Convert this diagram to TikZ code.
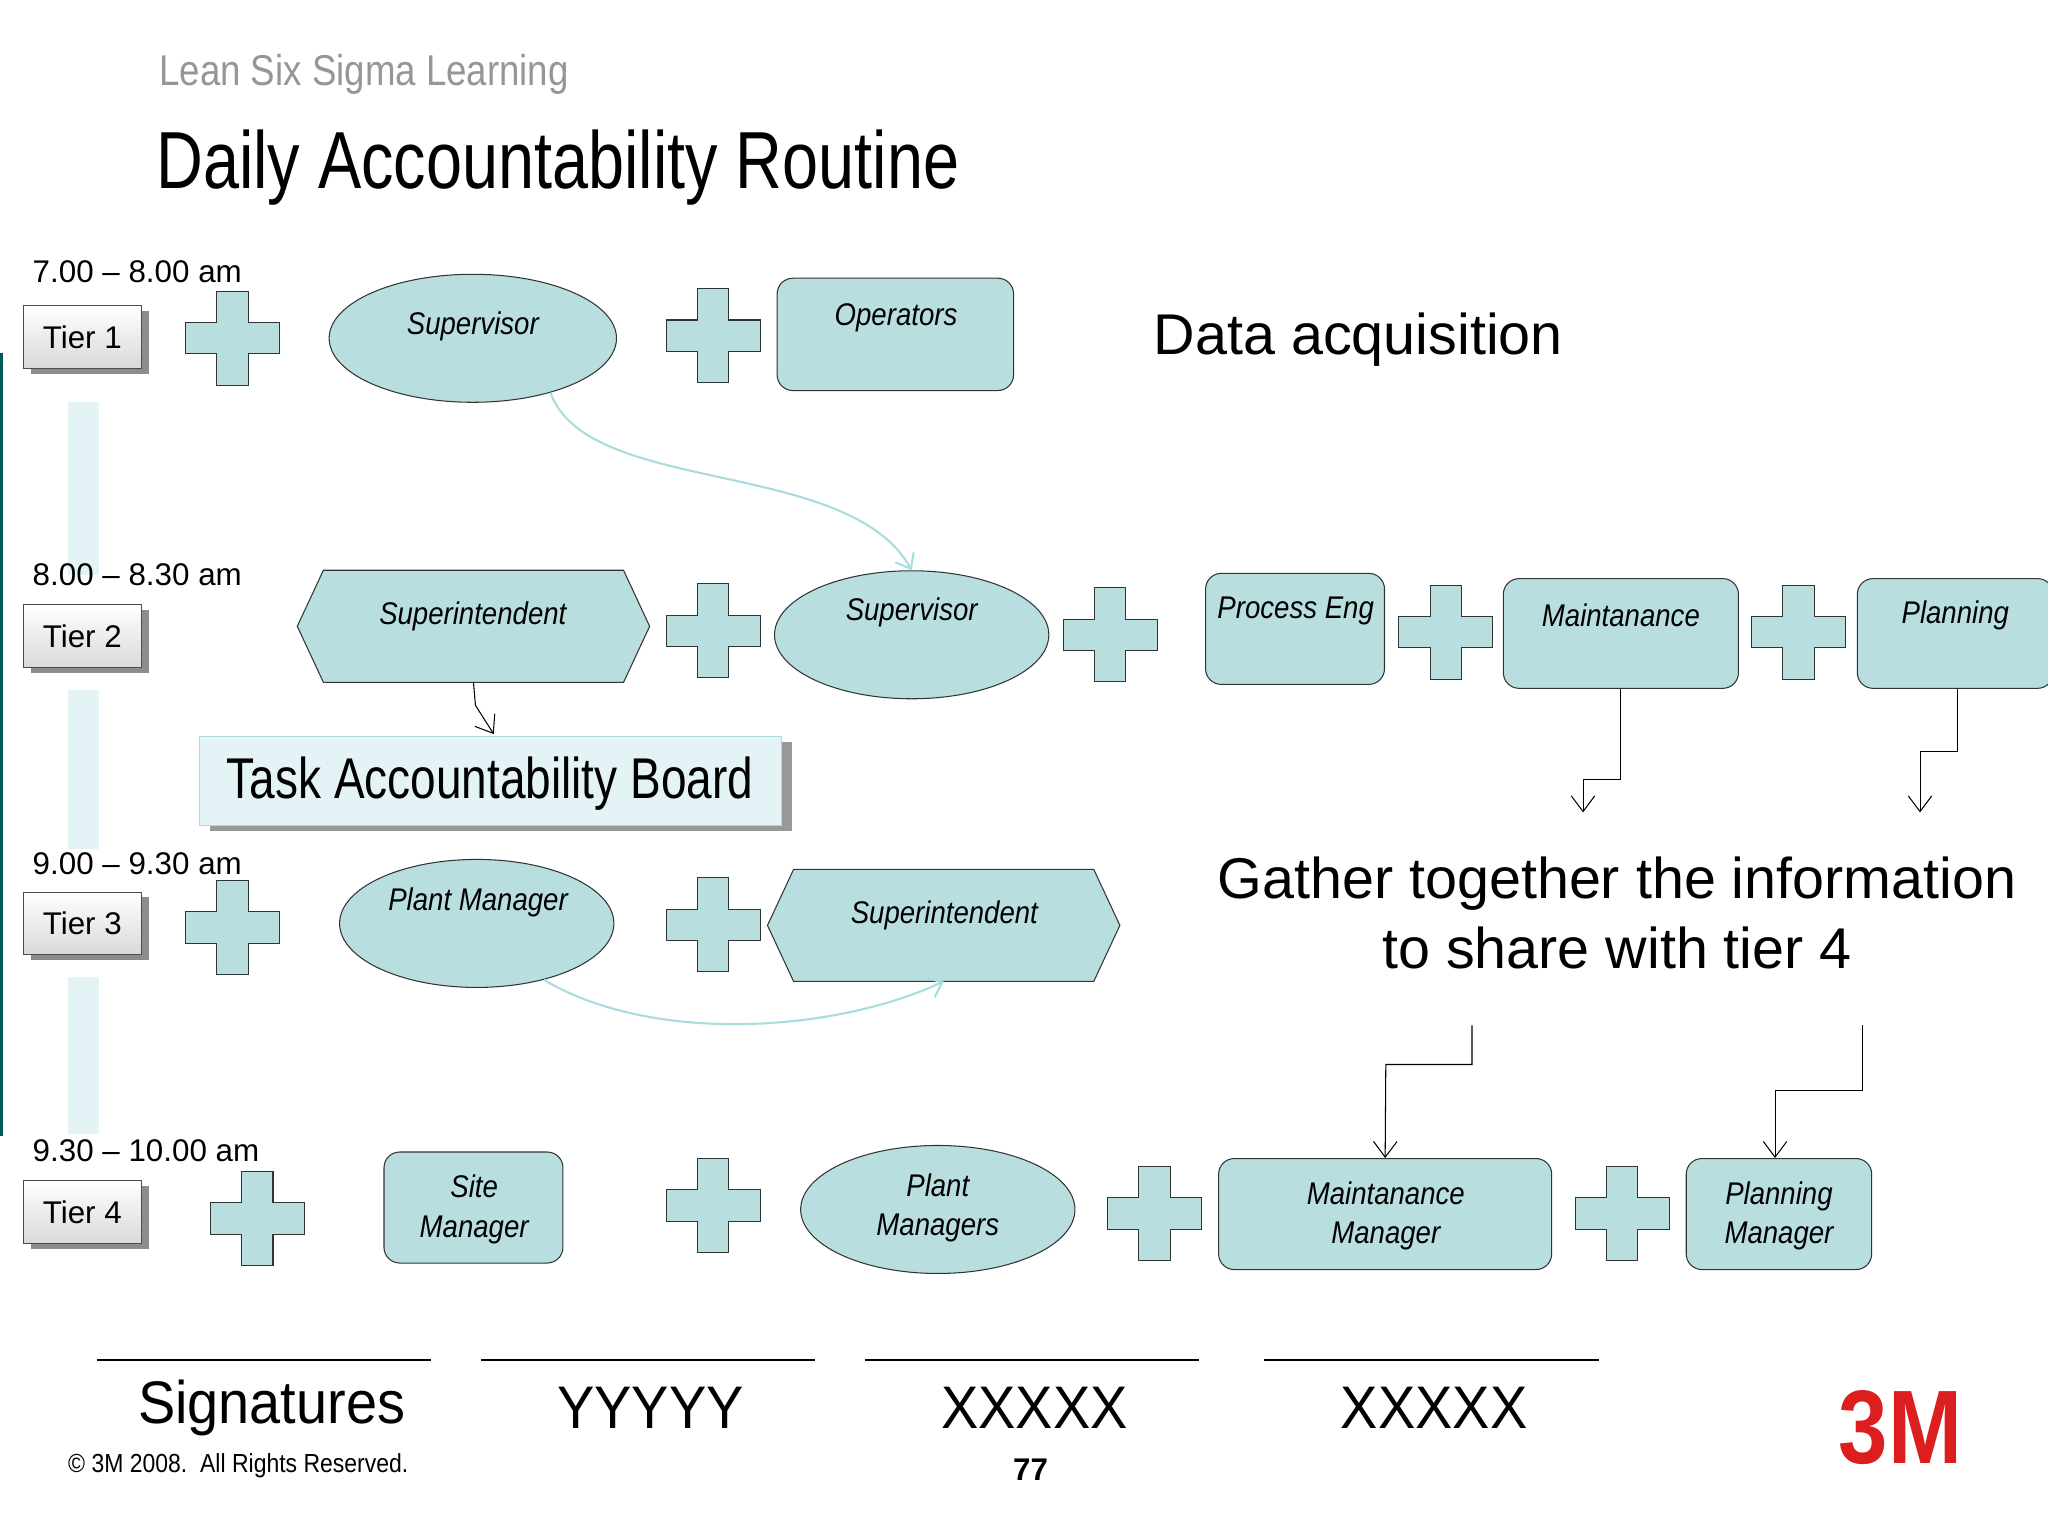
\documentclass[tikz,border=0pt]{standalone}
\usepackage{fontspec}
\setmainfont{Liberation Sans}
\usetikzlibrary{shapes.geometric,arrows.meta,calc,shadows}
\definecolor{boxfill}{RGB}{185,222,224}
\definecolor{pale}{RGB}{228,244,246}
\definecolor{curvec}{RGB}{170,220,222}
\definecolor{graytxt}{RGB}{150,150,150}
\definecolor{mred}{RGB}{220,30,30}
\tikzset{
 x=0.5pt,y=-0.5pt,
 lbl/.style={font=\fontsize{12}{14}\selectfont\itshape,xscale=0.88},
 ell/.style={ellipse,draw=black!80,fill=boxfill,minimum width=105pt,minimum height=49pt,inner sep=0pt},
 rbox/.style={draw=black!80,fill=boxfill,rounded corners=6pt,inner sep=0pt},
 tier/.style={draw=black!70,top color=white,bottom color=black!15,minimum width=45pt,minimum height=24pt,font=\fontsize{12}{14}\selectfont,xscale=1,drop shadow={shadow xshift=3pt,shadow yshift=-2pt,fill=black!45,opacity=1}},
 timel/.style={anchor=west,font=\fontsize{12}{14}\selectfont},
 conn/.style={draw=black,-{Straight Barb[length=6pt,width=9pt]}},
 cur/.style={draw=curvec,line width=0.8pt,-{Straight Barb[length=5pt,width=8pt]}},
 plussign/.pic={\draw[black!80,fill=boxfill] (-12,-36)--(12,-36)--(12,-12)--(36,-12)--(36,12)--(12,12)--(12,36)--(-12,36)--(-12,12)--(-36,12)--(-36,-12)--(-12,-12)--cycle;},
}
\newcommand\hexat[1]{\draw[black!80,fill=boxfill] (#1.west)--([xshift=10pt]#1.north west)--([xshift=-10pt]#1.north east)--(#1.east)--([xshift=-10pt]#1.south east)--([xshift=10pt]#1.south west)--cycle;}
\begin{document}
\begin{tikzpicture}
\useasboundingbox[fill=white] (0,0) rectangle (1568,1176);
\draw[teal!70!black,line width=1.5pt] (1,270)--(1,870);
\node[anchor=west,text=graytxt,font=\fontsize{16.5}{18}\selectfont,xscale=0.85] at (116,57) {Lean Six Sigma Learning};
\node[anchor=west,font=\fontsize{31}{34}\selectfont,xscale=0.8] at (114,128) {Daily Accountability Routine};
\foreach \a/\b in {308/440,528/650,748/868}{\fill[pale] (52,\a) rectangle (76,\b);}
\node[timel] (t1) at (18,208) {7.00 – 8.00 am};
\node[timel] (t2) at (18,440) {8.00 – 8.30 am};
\node[timel] (t3) at (18,661) {9.00 – 9.30 am};
\node[timel] (t4) at (18,881) {9.30 – 10.00 am};
\node[tier] (r1) at (63,258) {Tier 1};
\node[tier] (r2) at (63,487) {Tier 2};
\node[tier] (r3) at (63,707) {Tier 3};
\node[tier] (r4) at (63,928) {Tier 4};
% Tier 1
\pic at (178,259) {plussign};
\node[ell,minimum width=110pt,minimum height=49pt] (sup1) at (362,259) {};
\node[lbl] at (362,250) {Supervisor};
\pic at (546,257) {plussign};
\node[rbox,minimum width=90.5pt,minimum height=43pt] (op) at (685.5,256) {};
\node[lbl] at (686,243) {Operators};
\node[font=\fontsize{22}{26}\selectfont] (da) at (1040,260) {Data acquisition};
% Tier 2
\node[minimum width=134.5pt,minimum height=42.5pt,inner sep=0pt] (si2) at (362.5,479.5) {};
\hexat{si2}
\node[lbl] at (362,472) {Superintendent};
\pic at (546,483) {plussign};
\node[ell] (sup2) at (698,486) {};
\node[lbl] at (698,469) {Supervisor};
\pic at (850,486) {plussign};
\node[rbox,minimum width=68.5pt,minimum height=42.5pt] (pe) at (991.5,481.5) {};
\node[lbl] at (992,468) {Process Eng};
\pic at (1107,484) {plussign};
\node[rbox,minimum width=90pt,minimum height=42pt] (mt) at (1241,485) {};
\node[lbl] at (1241,471) {Maintanance};
\pic at (1377,484) {plussign};
\node[rbox,minimum width=75pt,minimum height=42pt] (pl) at (1497,485) {};
\node[lbl] at (1497,471) {Planning};
\draw[cur] (sup1.-35) .. controls (450,380) and (650,350) .. (sup2.north);
% Task board
\node[draw=curvec,fill=pale,minimum width=222.5pt,minimum height=34pt,drop shadow={shadow xshift=4pt,shadow yshift=-2pt,fill=black!40,opacity=1}] (tab) at (375.5,598) {};
\node[anchor=west,font=\fontsize{22}{26}\selectfont,xscale=0.8] at (168,600) {Task Accountability Board};
\coordinate (k1) at (364,540);
\draw[conn] (si2.south) -- (k1) -- (378,562);
\coordinate (m1) at (1241,597);
\coordinate (m2) at (1212,597);
\coordinate (m3) at (1212,622);
\draw[conn] (mt.south) -- (m1) -- (m2) -- (m3);
\coordinate (p1) at (1499,575);
\coordinate (p2) at (1470,575);
\coordinate (p3) at (1470,622);
\draw[conn] (pl.south -| p1) -- (p1) -- (p2) -- (p3);
% Tier 3
\pic at (178,710) {plussign};
\node[ell] (pm) at (365,707) {};
\node[lbl] at (366,691) {Plant Manager};
\pic at (546,708) {plussign};
\node[minimum width=134.5pt,minimum height=42.5pt,inner sep=0pt] (si3) at (722.5,708.5) {};
\hexat{si3}
\node[lbl] at (723,701) {Superintendent};
\draw[cur] (pm.-40) .. controls (500,800) and (640,790) .. (si3.south);
\node[font=\fontsize{22}{27}\selectfont,align=center] (gt) at (1238,699) {Gather together the information\\to share with tier 4};
% Tier 4
\pic at (197,933) {plussign};
\node[rbox,minimum width=68.5pt,minimum height=42.5pt] (sm) at (362.5,924.5) {};
\node[lbl,align=center] at (363,926) {Site\\[1pt]Manager};
\pic at (546,923) {plussign};
\node[ell] (pms) at (718,926) {};
\node[lbl,align=center] at (718,925) {Plant\\[1pt]Managers};
\pic at (884,929) {plussign};
\node[rbox,minimum width=127.5pt,minimum height=42.5pt] (mm) at (1060.5,929.5) {};
\node[lbl,align=center] at (1061,931) {Maintanance\\[1pt]Manager};
\pic at (1242,929) {plussign};
\node[rbox,minimum width=71pt,minimum height=42.5pt] (pgm) at (1362,929.5) {};
\node[lbl,align=center] at (1362,931) {Planning\\[1pt]Manager};
\coordinate (a0) at (1127,785);
\coordinate (a1) at (1127,815);
\coordinate (a2) at (1061,815);
\draw[conn] (a0)--(a1)--(a2)--(mm.north);
\coordinate (b0) at (1426,785);
\coordinate (b1) at (1426,835);
\coordinate (b2) at (1359,835);
\draw[conn] (b0)--(b1)--(b2)--(b2 |- pgm.north);
% signatures
\foreach \a/\b in {74/330,368/624,662/918,968/1224}{\draw[line width=0.8pt] (\a,1041)--(\b,1041);}
\node[font=\fontsize{23}{26}\selectfont,xscale=0.93] at (208,1078) {Signatures};
\node[font=\fontsize{23}{26}\selectfont,xscale=0.93] at (498,1078) {YYYYY};
\node[font=\fontsize{23}{26}\selectfont,xscale=0.93] at (792,1078) {XXXXX};
\node[font=\fontsize{23}{26}\selectfont,xscale=0.93] at (1098,1078) {XXXXX};
\node[anchor=west,font=\fontsize{10}{12}\selectfont,xscale=0.88] at (46,1122) {© 3M 2008.\ \ All Rights Reserved.};
\node[font=\fontsize{12}{14}\selectfont\bfseries] at (789,1125) {77};
\node[text=mred,font=\fontsize{40}{42}\selectfont\bfseries,xscale=0.85] at (1455,1093) {3M};
\end{tikzpicture}
\end{document}
